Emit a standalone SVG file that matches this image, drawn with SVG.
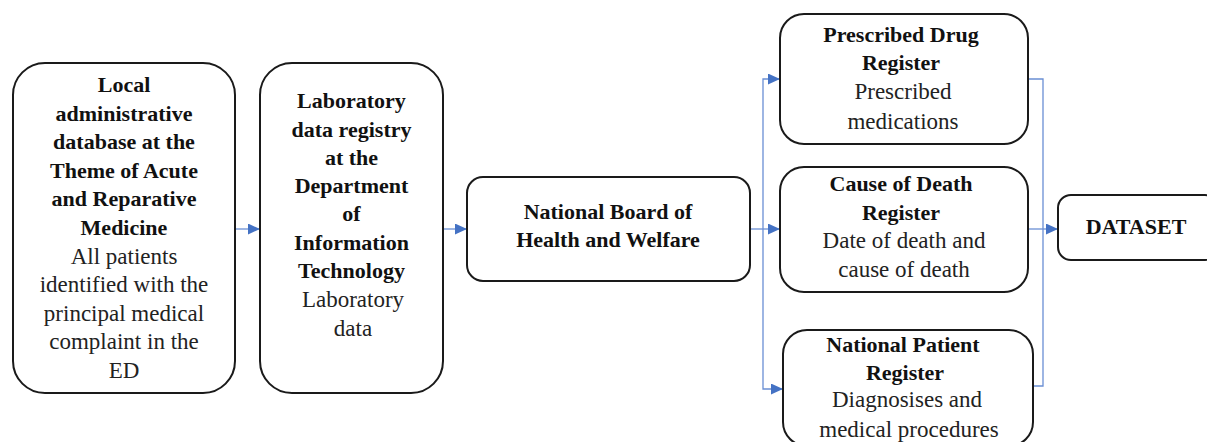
<svg xmlns="http://www.w3.org/2000/svg" width="1207" height="442" viewBox="0 0 1207 442">
<style>
.box{fill:#fff;stroke:#1a1a1a;stroke-width:2}
.b{font-family:'Liberation Serif','Times New Roman','DejaVu Serif',serif;font-weight:bold;font-size:22px;fill:#111;text-anchor:middle}
.r{font-family:'Liberation Serif','Times New Roman','DejaVu Serif',serif;font-size:23px;fill:#222;text-anchor:middle}
.c{fill:none;stroke:#6a8fd4;stroke-width:1.3}
</style>
<defs>
<marker id="ah" markerUnits="userSpaceOnUse" markerWidth="13" markerHeight="11" refX="12" refY="5.5" orient="auto">
<path d="M0,0 L12,5.5 L0,11 Z" fill="#4472C4"/>
</marker>
</defs>
<g id="connectors">
<line class="c" x1="236" y1="229" x2="260" y2="229" marker-end="url(#ah)"/>
<line class="c" x1="443" y1="229" x2="467" y2="229" marker-end="url(#ah)"/>
<line class="c" x1="750" y1="229" x2="780" y2="229" marker-end="url(#ah)"/>
<polyline class="c" points="763,229 763,79 780,79" marker-end="url(#ah)"/>
<polyline class="c" points="763,229 763,389 783,389" marker-end="url(#ah)"/>
<polyline class="c" points="1028,79 1043,79 1043,386 1033,386"/>
<line class="c" x1="1028" y1="229" x2="1058" y2="229" marker-end="url(#ah)"/>
</g>
<g id="local">
<rect class="box" x="13" y="63" width="222" height="330" rx="32"/>
<text class="b" x="124" y="92">Local</text>
<text class="b" x="124" y="120.6">administrative</text>
<text class="b" x="124" y="149.2">database at the</text>
<text class="b" x="124" y="177.8">Theme of Acute</text>
<text class="b" x="124" y="206.4">and Reparative</text>
<text class="b" x="124" y="235">Medicine</text>
<text class="r" x="124" y="263.6">All patients</text>
<text class="r" x="124" y="292.2">identified with the</text>
<text class="r" x="124" y="320.8">principal medical</text>
<text class="r" x="124" y="349.4">complaint in the</text>
<text class="r" x="124" y="378">ED</text>
</g>
<g id="lab">
<rect class="box" x="260" y="63" width="183" height="330" rx="32"/>
<text class="b" x="351.5" y="108">Laboratory</text>
<text class="b" x="351.5" y="136.5">data registry</text>
<text class="b" x="351.5" y="164.5">at the</text>
<text class="b" x="351.5" y="193">Department</text>
<text class="b" x="351.5" y="221">of</text>
<text class="b" x="351.5" y="249.5">Information</text>
<text class="b" x="351.5" y="278">Technology</text>
<text class="r" x="353" y="307">Laboratory</text>
<text class="r" x="353" y="335.5">data</text>
</g>
<g id="board">
<rect class="box" x="467" y="177" width="283" height="104" rx="16"/>
<text class="b" x="608" y="219">National Board of</text>
<text class="b" x="608" y="247">Health and Welfare</text>
</g>
<g id="drug">
<rect class="box" x="780" y="14" width="248" height="130" rx="24"/>
<text class="b" x="901" y="42">Prescribed Drug</text>
<text class="b" x="901" y="70">Register</text>
<text class="r" x="903" y="99">Prescribed</text>
<text class="r" x="903" y="129">medications</text>
</g>
<g id="death">
<rect class="box" x="780" y="167" width="248" height="125" rx="24"/>
<text class="b" x="901" y="191">Cause of Death</text>
<text class="b" x="901" y="220">Register</text>
<text class="r" x="904" y="248">Date of death and</text>
<text class="r" x="904" y="277">cause of death</text>
</g>
<g id="patient">
<rect class="box" x="783" y="330" width="250" height="116" rx="24"/>
<text class="b" x="903" y="352">National Patient</text>
<text class="b" x="905" y="380">Register</text>
<text class="r" x="907" y="407">Diagnosises and</text>
<text class="r" x="909" y="437">medical procedures</text>
</g>
<g id="dataset">
<rect class="box" x="1058" y="195" width="160" height="65" rx="13"/>
<text class="b" x="1136" y="234">DATASET</text>
</g>
</svg>
